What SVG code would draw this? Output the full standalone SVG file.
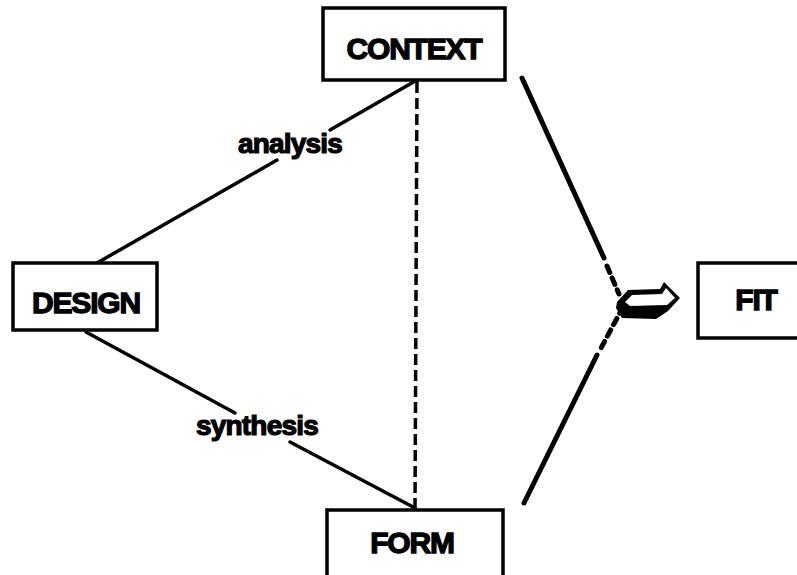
<svg xmlns="http://www.w3.org/2000/svg" width="797" height="575" viewBox="0 0 797 575">
<style>
.box{fill:#fff;stroke:#000;stroke-width:3.5}
.cap{font-family:"Liberation Sans",Arial,sans-serif;font-weight:bold;font-size:30px;letter-spacing:-1.2px;text-anchor:middle;fill:#000;stroke:#000;stroke-width:1.3}
.lab{font-family:"Liberation Sans",Arial,sans-serif;font-weight:bold;font-size:28px;letter-spacing:-0.8px;text-anchor:middle;fill:#000;stroke:#000;stroke-width:1.2}
.ln{stroke:#000;stroke-width:3.5;fill:none;stroke-linecap:round}
.thick{stroke:#000;stroke-width:5;fill:none;stroke-linecap:round}
.dash{stroke:#000;stroke-width:3.5;fill:none;stroke-dasharray:11 5}
.tdash{stroke:#000;stroke-width:5;fill:none;stroke-dasharray:7 6;stroke-linecap:round}
</style>
<rect width="797" height="575" fill="#fff"/>
<g id="connectors">
<line class="ln" x1="97" y1="263" x2="277" y2="160"/>
<line class="ln" x1="330" y1="130" x2="417" y2="80"/>
<line class="ln" x1="86" y1="332" x2="235" y2="413"/>
<line class="ln" x1="290" y1="442" x2="415" y2="508"/>
<line class="dash" x1="417" y1="82" x2="415" y2="508"/>
<line class="thick" x1="522" y1="78" x2="604" y2="258"/>
<line class="tdash" x1="607" y1="266" x2="619" y2="294"/>
<line class="tdash" x1="623" y1="307" x2="600" y2="350"/>
<line class="thick" x1="597" y1="355" x2="524" y2="503"/>
</g>
<g id="arrow">
<polygon points="617,302 628,290 660,289 664,282 680,298 668,311 656,319 622,318 616,308" fill="#000"/>
<polygon points="625,302 632,295 662,294 666,288 675,298 667,305 630,306" fill="#fff"/>
</g>
<g id="context">
<rect class="box" x="323" y="8" width="182" height="72"/>
<text class="cap" x="414" y="59">CONTEXT</text>
</g>
<g id="design">
<rect class="box" x="13" y="263" width="144" height="67"/>
<text class="cap" x="86" y="313">DESIGN</text>
</g>
<g id="form">
<rect class="box" x="327" y="510" width="176" height="75"/>
<text class="cap" x="412" y="553">FORM</text>
</g>
<g id="fit">
<rect class="box" x="698" y="263" width="110" height="75"/>
<text class="cap" x="756" y="310">FIT</text>
</g>
<g id="labels">
<text class="lab" x="290" y="153">analysis</text>
<text class="lab" x="257" y="435">synthesis</text>
</g>
</svg>
